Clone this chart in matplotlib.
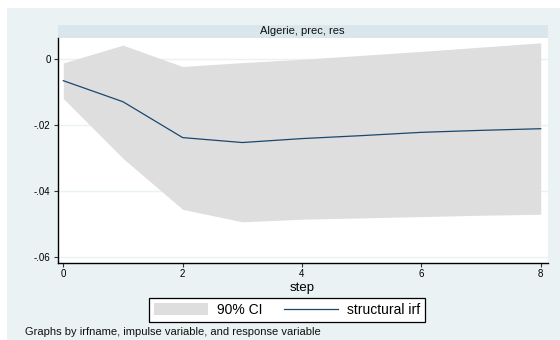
import numpy as np
import matplotlib.pyplot as plt
from matplotlib.patches import Rectangle, Patch
from matplotlib.lines import Line2D

plt.rcParams['font.family'] = ['Liberation Sans', 'DejaVu Sans']

# impulse response: Algerie, impulse prec, response res
steps = [0, 1, 2, 3, 4, 5, 6, 7, 8]
irf = [-0.0065, -0.0129, -0.0238, -0.0253, -0.0241, -0.0232, -0.0222, -0.0216, -0.0211]
ci_low = [-0.0119, -0.0301, -0.0456, -0.0494, -0.0486, -0.0482, -0.0478, -0.0474, -0.0471]
ci_high = [-0.0011, 0.0043, -0.0022, -0.0010, 0.0000, 0.0012, 0.0024, 0.0037, 0.0050]

yticks = [0, -0.02, -0.04, -0.06]
ytick_labels = ['0', '-.02', '-.04', '-.06']
xticks = [0, 2, 4, 6, 8]

W, H = 560, 340
bg = '#EAF2F3'
strip = '#D9E6EB'
navy = '#1A476F'
ci_col = '#DEDEDE'

fig = plt.figure(figsize=(W / 100, H / 100), dpi=100)
fig.patch.set_facecolor('white')

def px(x0, y0, x1, y1):
    # pixel box (from top-left) -> figure fraction rect
    return [x0 / W, 1 - y1 / H, (x1 - x0) / W, (y1 - y0) / H]

# graph region
fig.patches.append(Rectangle((7 / W, 0), 1, 1 - 8 / H, transform=fig.transFigure,
                             facecolor=bg, edgecolor='none', zorder=-2))
# subtitle strip
r = px(57.5, 25, 547.5, 38)
fig.patches.append(Rectangle((r[0], r[1]), r[2], r[3], transform=fig.transFigure,
                             facecolor=strip, edgecolor='none', zorder=-1))
fig.text(r[0] + r[2] / 2, r[1] + r[3] / 2, 'Algerie, prec, res', ha='center', va='center',
         fontsize=8, color='#111111')

ax = fig.add_axes(px(57.5, 38, 547.5, 262.5))
ax.set_facecolor('white')
ax.fill_between(steps, ci_low, ci_high, color=ci_col, linewidth=0, zorder=2)
ax.plot(steps, irf, color=navy, linewidth=0.9, zorder=3)

ax.set_xlim(-0.097, 8.114)
ax.set_ylim(-0.06176, 0.00647)
ax.set_yticks(yticks)
ax.set_yticklabels(ytick_labels)
ax.set_xticks(xticks)
ax.grid(axis='y', color=bg, linewidth=1, zorder=1)
ax.set_axisbelow(True)
for s in ['top', 'right']:
    ax.spines[s].set_visible(False)
for s in ['left', 'bottom']:
    ax.spines[s].set_linewidth(1)
    ax.spines[s].set_color('black')
ax.tick_params(axis='both', length=3, width=0.8, labelsize=7, pad=2, color='#333333')
ax.set_xlabel('step', fontsize=9.5, labelpad=2)

handles = [Patch(facecolor=ci_col, edgecolor='none'),
           Line2D([0], [0], color=navy, linewidth=0.9)]
leg = fig.legend(handles, ['90% CI', 'structural irf'], ncol=2, loc='center',
                 bbox_to_anchor=(287 / W, 1 - 310 / H), fontsize=10,
                 frameon=True, fancybox=False, framealpha=1, edgecolor='black',
                 handlelength=3.9, handleheight=1.0, columnspacing=1.6,
                 borderpad=0.35, handletextpad=0.6, borderaxespad=0)
leg.get_frame().set_linewidth(0.9)
leg.get_frame().set_facecolor('white')

fig.text(25 / W, 1 - 332 / H, 'Graphs by irfname, impulse variable, and response variable',
         ha='left', va='center', fontsize=8, color='#111111')

fig.savefig('out.png', dpi=100)
